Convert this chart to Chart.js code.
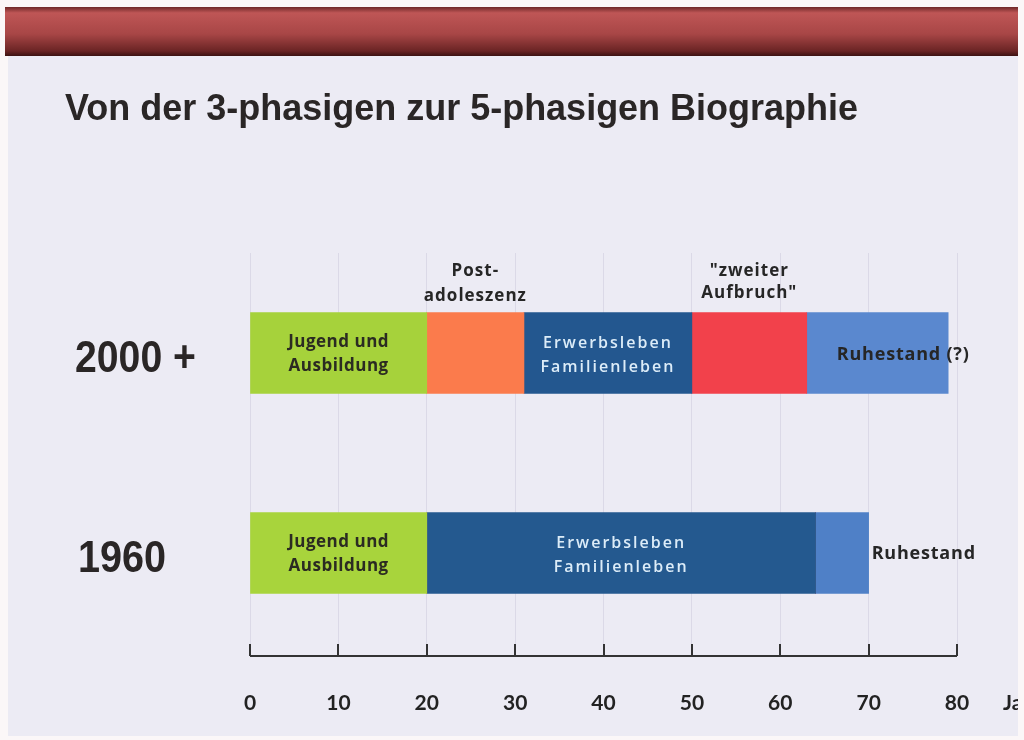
<!DOCTYPE html>
<html>
<head>
<meta charset="utf-8">
<script src="https://cdn.jsdelivr.net/npm/chart.js@4"></script>
<style>
  html, body { margin: 0; padding: 0; background: #fff; }
  #wrap { width: 1024px; height: 740px; position: relative; }
</style>
</head>
<body>
<div id="wrap"><canvas id="bioChart" width="1024" height="740"></canvas></div>
<script>
// rows and phases
const rows = ["2000 +", "1960"]
const phaseNames = ["Jugend und Ausbildung", "Post-adoleszenz", "Erwerbsleben Familienleben", "zweiter Aufbruch", "Ruhestand"]
const jugend = [20, 20]
const postAdoleszenz = [11, 0]
const erwerbsleben = [19, 44]
const zweiterAufbruch = [13, 0]
const ruhestand = [16, 6]
const xTicks = [0, 10, 20, 30, 40, 50, 60, 70, 80]
const title = "Von der 3-phasigen zur 5-phasigen Biographie"

const phaseColors = [
  ["#a6d23b", "#a8d43c"],
  ["#fb7b4c", "#fb7b4c"],
  ["#23578f", "#24598f"],
  ["#f2414b", "#f2414b"],
  ["#5a88cf", "#4f80c7"],
]

const slideBg = {
  id: "slideBg",
  beforeDraw(chart) {
    const ctx = chart.ctx
    ctx.save()
    ctx.fillStyle = "#fbf7f8"
    ctx.fillRect(0, 0, 1024, 740)
    ctx.fillStyle = "#ecebf4"
    ctx.fillRect(8, 55, 1010, 681)
    // header band
    const g = ctx.createLinearGradient(0, 7, 0, 56)
    g.addColorStop(0, "#6e2828")
    g.addColorStop(0.12, "#bf5656")
    g.addColorStop(0.55, "#a84646")
    g.addColorStop(0.9, "#6a2424")
    g.addColorStop(1, "#3c1212")
    ctx.fillStyle = g
    ctx.fillRect(5, 7, 1015, 49)

    // title
    ctx.fillStyle = "#2a2626"
    ctx.font = "bold 37px 'Liberation Sans Narrow', 'Liberation Sans', Arial, sans-serif"
    ctx.textBaseline = "alphabetic"
    ctx.textAlign = "left"
    ctx.fillText(title, 65, 120, 793)

    // row labels
    ctx.font = "bold 44px 'Liberation Sans Narrow', 'Liberation Sans', Arial, sans-serif"
    ctx.fillText(rows[0], 75, 372, 121)
    ctx.fillText(rows[1], 78, 572, 88)
    ctx.restore()
  },
  afterDraw(chart) {
    const ctx = chart.ctx
    const xs = chart.scales.x
    ctx.save()
    // axis line with upward ticks
    const yAxis = 656
    ctx.strokeStyle = "#333"
    ctx.lineWidth = 2
    ctx.beginPath()
    ctx.moveTo(xs.getPixelForValue(xTicks[0]), yAxis)
    ctx.lineTo(xs.getPixelForValue(xTicks[xTicks.length - 1]), yAxis)
    xTicks.forEach(v => {
      const px = Math.round(xs.getPixelForValue(v))
      ctx.moveTo(px, yAxis)
      ctx.lineTo(px, yAxis - 12)
    })
    ctx.stroke()

    ctx.fillStyle = "#222"
    ctx.font = "bold 21px Lato, 'Open Sans', sans-serif"
    ctx.textBaseline = "middle"
    ctx.fillText("Jahre", 1003, 703)
    ctx.fillStyle = "#fbf7f8"
    ctx.fillRect(1018, 0, 6, 740)
    ctx.fillRect(0, 736, 1024, 4)

    // labels inside / next to the bars
    const bar = (ds, row) => chart.getDatasetMeta(ds).data[row]
    const lines = (arr, x, y, gap) => arr.forEach((t, i) => ctx.fillText(t, x, y + i * gap))

    ctx.textAlign = "center"
    ctx.fillStyle = "#2b2b22"
    ctx.font = "bold 17px 'Open Sans', sans-serif"
    ctx.letterSpacing = "0.5px"
    for (let r = 0; r < rows.length; r++) {
      const b = bar(0, r)
      lines(["Jugend und", "Ausbildung"], (b.base + b.x) / 2, b.y - 11, 24)
    }

    ctx.fillStyle = "#dcecf8"
    ctx.font = "600 16px 'Open Sans', sans-serif"
    ctx.letterSpacing = "2px"
    for (let r = 0; r < rows.length; r++) {
      const b = bar(2, r)
      lines(["Erwerbsleben", "Familienleben"], (b.base + b.x) / 2, b.y - 10, 24)
    }

    ctx.fillStyle = "#262626"
    ctx.font = "bold 18px 'Open Sans', sans-serif"
    ctx.letterSpacing = "0.8px"
    ctx.textAlign = "left"
    const r0 = bar(4, 0)
    ctx.fillText("Ruhestand (?)", r0.base + 30, r0.y + 2)
    const r1 = bar(4, 1)
    ctx.fillText("Ruhestand", r1.x + 3, r1.y + 1)

    // annotations above the top bar
    ctx.textAlign = "center"
    ctx.font = "bold 17px 'Open Sans', sans-serif"
    ctx.letterSpacing = "1px"
    const p = bar(1, 0)
    lines(["Post-", "adoleszenz"], (p.base + p.x) / 2, 271, 25)
    const z = bar(3, 0)
    lines(["\"zweiter", "Aufbruch\""], (z.base + z.x) / 2, 271, 22)
    ctx.restore()
  },
}

const series = [jugend, postAdoleszenz, erwerbsleben, zweiterAufbruch, ruhestand]

new Chart(document.getElementById("bioChart"), {
  type: "bar",
  data: {
    labels: rows,
    datasets: series.map((data, i) => ({
      label: phaseNames[i],
      data: data,
      backgroundColor: phaseColors[i],
      borderWidth: 0,
      barThickness: 81,
    })),
  },
  options: {
    indexAxis: "y",
    responsive: false,
    animation: false,
    layout: { padding: { left: 250, right: 67, top: 253, bottom: 0 } },
    plugins: {
      legend: { display: false },
      tooltip: { enabled: false },
    },
    scales: {
      x: {
        stacked: true,
        min: 0,
        max: 80,
        afterBuildTicks: (axis) => { axis.ticks = xTicks.map(v => ({ value: v })) },
        afterFit: (axis) => { axis.height = 87 },
        grid: { color: "rgba(205,203,220,0.55)", drawTicks: false },
        border: { display: false },
        ticks: {
          padding: 38,
          color: "#222",
          font: { family: "Lato, 'Open Sans', sans-serif", size: 21, weight: "bold" },
        },
      },
      y: {
        stacked: true,
        display: false,
      },
    },
  },
  plugins: [slideBg],
})
</script>
</body>
</html>
